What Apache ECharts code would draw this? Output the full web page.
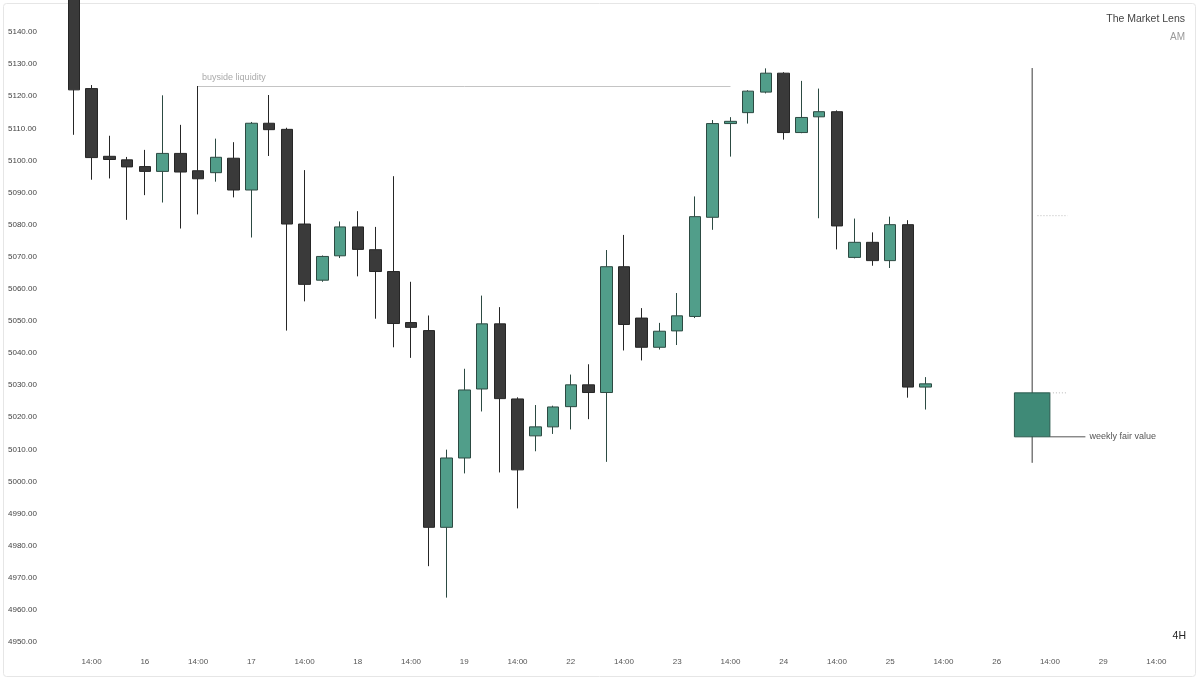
<!DOCTYPE html>
<html>
<head>
<meta charset="utf-8">
<title>4H</title>
<script src="https://cdn.jsdelivr.net/npm/echarts@6/dist/echarts.min.js"></script>
<style>
    html, body { margin: 0; padding: 0; background: #fff; }
    #chart-container { width: 1200px; height: 679px; }
</style>
</head>
<body>
<div id="chart-container"></div>
<script>
// x axis: one slot per 4H candle, labels only where the reference shows them
const xLabels = [
    '', '14:00', '', '', '16', '',
    '', '14:00', '', '', '17', '',
    '', '14:00', '', '', '18', '',
    '', '14:00', '', '', '19', '',
    '', '14:00', '', '', '22', '',
    '', '14:00', '', '', '23', '',
    '', '14:00', '', '', '24', '',
    '', '14:00', '', '', '25', '',
    '', '14:00', '', '', '26', '',
    '', '14:00', '', '', '29', '',
    '', '14:00', ''
];

const opens = [
    5151.0, 5122.4, 5101.3, 5100.2, 5098.1, 5096.6, 5102.2, 5096.8, 5096.2, 5100.7,
    5090.8, 5111.6, 5109.7, 5080.2, 5062.7, 5070.3, 5079.3, 5072.2, 5065.4, 5049.5,
    5047.0, 4985.7, 5007.3, 5028.8, 5049.1, 5025.7, 5014.2, 5017.0, 5023.3, 5030.1,
    5027.7, 5066.9, 5050.9, 5041.8, 5046.9, 5051.4, 5082.3, 5111.5, 5114.9, 5121.3,
    5127.2, 5108.7, 5113.6, 5115.2, 5069.8, 5074.5, 5068.8, 5080.0, 5029.4
];
const closes = [
    5122.0, 5100.9, 5100.3, 5098.0, 5096.6, 5102.2, 5096.4, 5094.3, 5101.0, 5090.8,
    5111.6, 5109.6, 5080.2, 5061.4, 5070.1, 5079.3, 5072.3, 5065.4, 5049.2, 5048.0,
    4985.7, 5007.3, 5028.5, 5049.1, 5025.8, 5003.6, 5017.0, 5023.2, 5030.1, 5027.7,
    5066.9, 5048.9, 5041.8, 5046.8, 5051.6, 5082.5, 5111.5, 5112.2, 5121.6, 5127.2,
    5108.7, 5113.4, 5115.2, 5079.6, 5074.5, 5068.8, 5080.0, 5029.4, 5030.4
];
const lows = [
    5108.0, 5094.0, 5094.4, 5081.5, 5089.2, 5086.9, 5078.8, 5083.2, 5093.4, 5088.5,
    5076.0, 5101.4, 5047.0, 5056.1, 5062.2, 5069.6, 5063.9, 5050.7, 5041.8, 5038.5,
    4973.6, 4963.8, 5002.5, 5021.8, 5002.8, 4991.6, 5009.4, 5014.8, 5016.2, 5019.4,
    5006.1, 5040.8, 5037.7, 5041.1, 5042.5, 5050.9, 5078.4, 5101.2, 5111.5, 5120.9,
    5106.5, 5108.5, 5082.0, 5072.3, 5069.5, 5067.2, 5066.5, 5026.1, 5022.4
];
const highs = [
    5154.0, 5123.5, 5107.7, 5101.1, 5103.3, 5120.3, 5111.1, 5123.2, 5106.8, 5105.7,
    5112.0, 5120.4, 5110.2, 5097.0, 5070.4, 5081.0, 5084.2, 5079.3, 5095.1, 5062.2,
    5051.7, 5009.9, 5035.1, 5057.9, 5054.3, 5026.2, 5023.8, 5023.6, 5033.3, 5036.5,
    5072.1, 5076.8, 5054.0, 5049.4, 5058.7, 5088.8, 5112.6, 5113.5, 5121.9, 5128.7,
    5127.5, 5124.8, 5122.4, 5115.6, 5081.9, 5077.6, 5082.5, 5081.4, 5032.5
];

// projected weekly candle: [slot, open, close, low, high]
const weeklyCandle = [54, 5013.9, 5027.6, 5005.8, 5128.8];
const weeklyUpperLevel = 5082.8;

// buyside liquidity line: from candle 7 high to candle 37
const buysideLevel = 5123.2;
const buysideFrom = 7;
const buysideTo = 37;

document.addEventListener('DOMContentLoaded', () => {
    const chart = echarts.init(document.getElementById('chart-container'));

    const candleData = opens.map((o, i) => [o, closes[i], lows[i], highs[i]]);

    const renderWeekly = (params, api) => {
        const slot = api.value(0);
        const band = api.size([1, 0])[0];
        const cx = api.coord([slot, api.value(1)])[0];
        const yOpen = api.coord([slot, api.value(1)])[1];
        const yClose = api.coord([slot, api.value(2)])[1];
        const yLow = api.coord([slot, api.value(3)])[1];
        const yHigh = api.coord([slot, api.value(4)])[1];
        const yUpper = api.coord([slot, weeklyUpperLevel])[1];
        const top = Math.min(yOpen, yClose);
        const h = Math.abs(yOpen - yClose);

        return {
            type: 'group',
            children: [
                {
                    type: 'line',
                    shape: { x1: cx, y1: yHigh, x2: cx, y2: yLow },
                    style: { stroke: '#3a3a3a', lineWidth: 1 }
                },
                {
                    type: 'rect',
                    shape: { x: cx - band, y: top, width: band * 2, height: h },
                    style: { fill: '#3f8a77', stroke: '#2b5a4e', lineWidth: 1 }
                },
                {
                    type: 'line',
                    shape: { x1: cx + band * 0.3, y1: yUpper, x2: cx + band * 2, y2: yUpper },
                    style: { stroke: '#b8b8b8', lineWidth: 1, lineDash: [1, 2] }
                },
                {
                    type: 'line',
                    shape: { x1: cx + band, y1: yClose, x2: cx + band * 2, y2: yClose },
                    style: { stroke: '#b8b8b8', lineWidth: 1, lineDash: [1, 2] }
                },
                {
                    type: 'line',
                    shape: { x1: cx + band, y1: yOpen, x2: cx + band * 3, y2: yOpen },
                    style: { stroke: '#555', lineWidth: 1 }
                },
                {
                    type: 'text',
                    x: cx + band * 3 + 4,
                    y: yOpen,
                    style: {
                        text: 'weekly fair value',
                        fill: '#555',
                        font: '9px "Liberation Sans", sans-serif',
                        verticalAlign: 'middle'
                    }
                }
            ]
        };
    };

    const option = {
        backgroundColor: '#fff',
        animation: false,
        grid: { left: 65, right: 17, top: -1, height: 675 },
        xAxis: {
            type: 'category',
            data: xLabels,
            boundaryGap: true,
            axisLine: { show: false },
            axisTick: { show: false },
            splitLine: { show: false },
            axisLabel: {
                interval: 0,
                margin: -16,
                color: '#555',
                fontSize: 8,
                fontFamily: 'Liberation Sans'
            }
        },
        yAxis: {
            type: 'value',
            min: 4940,
            max: 5150,
            interval: 10,
            position: 'left',
            axisLine: { show: false },
            axisTick: { show: false },
            splitLine: { show: false },
            axisLabel: {
                showMinLabel: false,
                showMaxLabel: false,
                align: 'left',
                margin: 57,
                color: '#444',
                fontSize: 8,
                fontFamily: 'Liberation Sans',
                formatter: v => v.toFixed(2)
            }
        },
        series: [
            {
                type: 'candlestick',
                data: candleData,
                barWidth: 12,
                itemStyle: {
                    color: '#519e8a',
                    borderColor: '#2c4a42',
                    color0: '#3a3a3a',
                    borderColor0: '#262626',
                    borderWidth: 1
                },
                markLine: {
                    silent: true,
                    symbol: ['none', 'none'],
                    lineStyle: { color: '#c4c4c4', width: 1, type: 'solid' },
                    label: {
                        position: 'insideStartTop',
                        formatter: 'buyside liquidity',
                        color: '#aaa',
                        fontSize: 9,
                        fontFamily: 'Liberation Sans',
                        distance: 4
                    },
                    data: [[
                        { coord: [buysideFrom, buysideLevel] },
                        { coord: [buysideTo, buysideLevel] }
                    ]]
                }
            },
            {
                type: 'custom',
                renderItem: renderWeekly,
                encode: { x: 0, y: [1, 2, 3, 4] },
                data: [weeklyCandle],
                silent: true,
                clip: false
            }
        ],
        graphic: [
            {
                type: 'rect',
                shape: { x: 3.5, y: 3.5, width: 1192, height: 673, r: 3 },
                style: { fill: 'none', stroke: '#e6e6e6', lineWidth: 1 },
                silent: true
            },
            {
                type: 'text',
                x: 1185,
                y: 19,
                style: {
                    text: 'The Market Lens',
                    fill: '#444',
                    font: '10.5px "Liberation Sans", sans-serif',
                    align: 'right',
                    verticalAlign: 'middle'
                }
            },
            {
                type: 'text',
                x: 1185,
                y: 37,
                style: {
                    text: 'AM',
                    fill: '#999',
                    font: '10px "Liberation Sans", sans-serif',
                    align: 'right',
                    verticalAlign: 'middle'
                }
            },
            {
                type: 'text',
                x: 1186,
                y: 636,
                style: {
                    text: '4H',
                    fill: '#222',
                    font: '10.5px "Liberation Sans", sans-serif',
                    align: 'right',
                    verticalAlign: 'middle'
                }
            }
        ]
    };

    chart.setOption(option);
});
</script>
</body>
</html>
